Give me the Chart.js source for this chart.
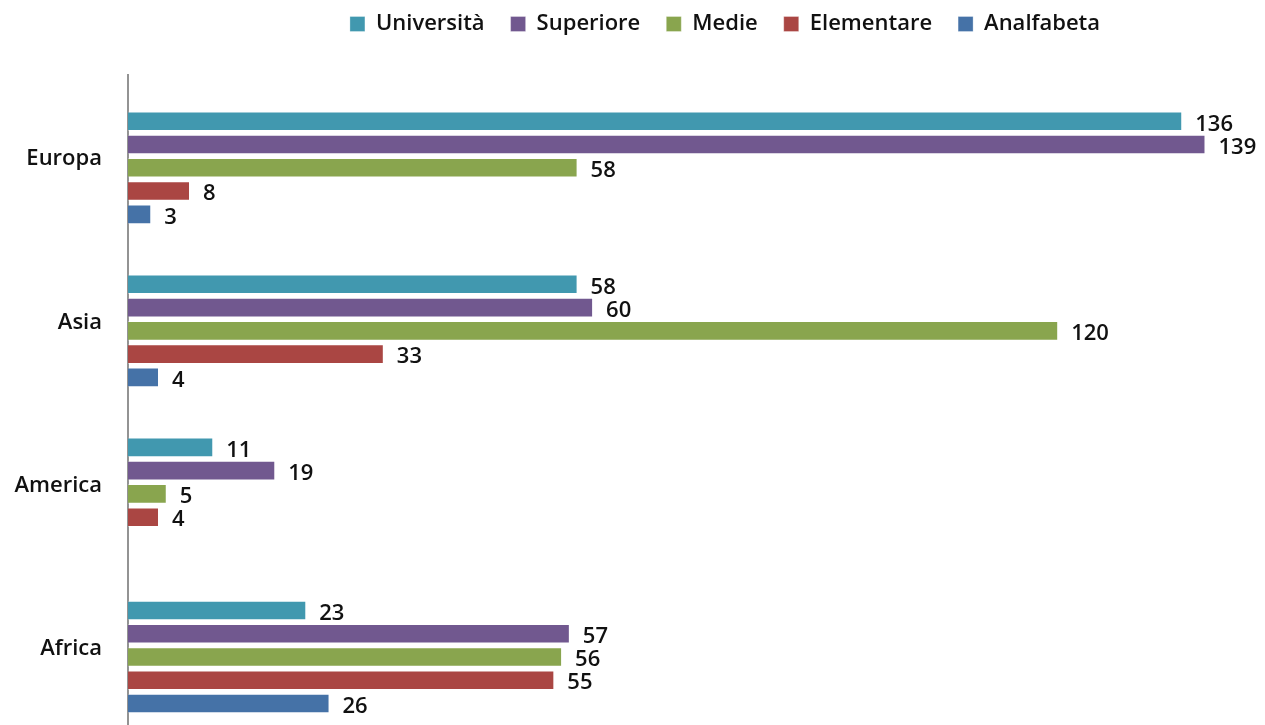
<!DOCTYPE html>
<html>
<head>
<meta charset="utf-8">
<script src="https://cdn.jsdelivr.net/npm/chart.js@4/dist/chart.umd.min.js"></script>
<style>
  body { margin: 0; background: #fff; overflow: hidden; }
  #wrap { position: relative; width: 1265px; height: 758px; }
</style>
</head>
<body>
<div id="wrap"><canvas id="grafico"></canvas></div>
<script>
// dati
const continenti = ['Europa', 'Asia', 'America', 'Africa'];
const universita = [136, 58, 11, 23];
const superiore  = [139, 60, 19, 57];
const medie      = [58, 120, 5, 56];
const elementare = [8, 33, 4, 55];
const analfabeta = [3, 4, null, 26];

const serie = [
  { label: 'Università', data: universita, color: '#4198AF' },
  { label: 'Superiore',  data: superiore,  color: '#71588F' },
  { label: 'Medie',      data: medie,      color: '#89A54E' },
  { label: 'Elementare', data: elementare, color: '#AA4643' },
  { label: 'Analfabeta', data: analfabeta, color: '#4572A7' }
];

const font = "'Open Sans', sans-serif";
const testo = '#111';

// etichette valori alla fine delle barre
const etichette = {
  id: 'etichette',
  afterDatasetsDraw(chart) {
    const ctx = chart.ctx;
    ctx.save();
    ctx.font = '600 22px ' + font;
    ctx.fillStyle = testo;
    ctx.textAlign = 'left';
    ctx.textBaseline = 'middle';
    chart.data.datasets.forEach((ds, i) => {
      if (!ds.label) return;
      chart.getDatasetMeta(i).data.forEach((bar, j) => {
        const v = ds.data[j];
        if (v == null) return;
        ctx.fillText(v, bar.x + 13, bar.y + 3);
      });
    });
    ctx.restore();
  }
};

// sposta la legenda come nell'originale
const spostaLegenda = {
  id: 'spostaLegenda',
  afterLayout(chart) {
    const l = chart.legend;
    l.left += 99; l.right += 99;
    l.top -= 29.7; l.bottom -= 29.7;
  }
};

// primo dataset vuoto: lascia lo spazio sopra ogni gruppo
const datasets = [{ label: '', data: continenti.map(() => null), backgroundColor: 'rgba(0,0,0,0)' }]
  .concat(serie.map(s => ({
    label: s.label,
    data: s.data,
    backgroundColor: s.color,
    borderColor: 'rgba(255,255,255,0.3)',
    borderWidth: 1
  })));

new Chart(document.getElementById('grafico'), {
  type: 'bar',
  data: { labels: continenti, datasets: datasets },
  options: {
    indexAxis: 'y',
    responsive: true,
    maintainAspectRatio: false,
    animation: false,
    categoryPercentage: 0.856,
    barPercentage: 0.84,
    layout: { padding: { top: 16.7, right: 13, bottom: 0, left: 0 } },
    plugins: {
      tooltip: { enabled: false },
      legend: {
        position: 'top',
        labels: {
          filter: item => item.text !== '',
          boxWidth: 15,
          boxHeight: 15,
          padding: 26,
          color: testo,
          font: { family: font, size: 22, weight: '600' }
        }
      }
    },
    scales: {
      x: { display: false, min: 0, max: 145 },
      y: {
        afterFit(scale) { scale.width = 128; },
        grid: { display: false },
        border: { display: true, color: '#939393', width: 2 },
        ticks: { padding: 18, labelOffset: 3, color: testo, font: { family: font, size: 22, weight: '600' } }
      }
    }
  },
  plugins: [etichette, spostaLegenda]
});
</script>
</body>
</html>
